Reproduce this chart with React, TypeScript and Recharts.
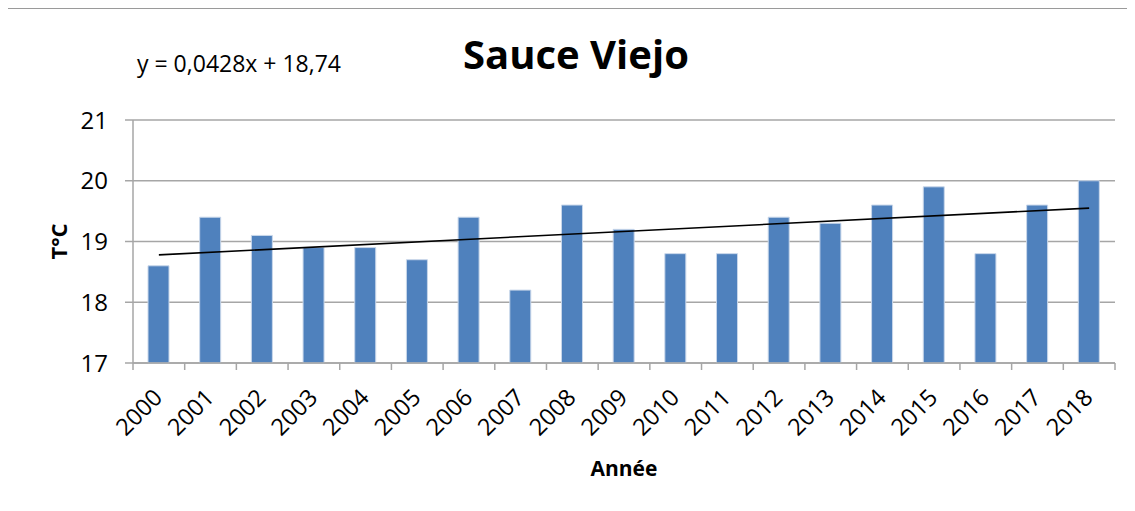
import React from "react"
import { ComposedChart, Bar, Line, XAxis, YAxis, CartesianGrid, Label } from "recharts"

const years = [
  "2000", "2001", "2002", "2003", "2004", "2005", "2006", "2007", "2008", "2009",
  "2010", "2011", "2012", "2013", "2014", "2015", "2016", "2017", "2018",
]
const temps = [
  18.6, 19.4, 19.1, 18.9, 18.9, 18.7, 19.4, 18.2, 19.6, 19.2,
  18.8, 18.8, 19.4, 19.3, 19.6, 19.9, 18.8, 19.6, 20.0,
]
const yTicks = [17, 18, 19, 20, 21]
// trend line end points (y = 0,0428x + 18,74)
const trendStart = 18.78
const trendEnd = 19.55

const title = "Sauce Viejo"
const equation = "y = 0,0428x + 18,74"
const xTitle = "Année"
const yTitle = "T°C"

const data = years.map((year, i) => ({
  year,
  temp: temps[i],
  trend: i === 0 ? trendStart : i === years.length - 1 ? trendEnd : null,
}))

const W = 1127
const H = 503
const Y_AXIS_W = 125
const MARGIN = { top: 112, right: 20, bottom: 48, left: 0 }
const PLOT_W = W - Y_AXIS_W - MARGIN.right
const BAND = PLOT_W / years.length
const GRID = "#a6a6a6"
const FONT = "'Open Sans', sans-serif"

function XTick({ x, y, payload, index }: any) {
  const half = BAND / 2
  return (
    <g>
      <line x1={x - half} x2={x - half} y1={y} y2={y + 7} stroke={GRID} strokeWidth={1.5} />
      {index === years.length - 1 && (
        <line x1={x + half} x2={x + half} y1={y} y2={y + 7} stroke={GRID} strokeWidth={1.5} />
      )}
      <text
        transform={`translate(${x + 5},${y + 36}) rotate(-45)`}
        textAnchor="end"
        fontSize={23.5}
        fill="#000"
      >
        {payload.value}
      </text>
    </g>
  )
}

export default function App() {
  return (
    <div style={{ position: "relative", width: W, height: H, fontFamily: FONT, background: "#fff" }}>
      <div
        style={{
          position: "absolute",
          left: -1,
          top: 0,
          width: W + 1,
          height: H,
          boxSizing: "border-box",
          borderTop: "1.5px solid #9a9a9a",
          borderLeft: "1.5px solid #9a9a9a",
        }}
      />
      <ComposedChart width={W} height={H} data={data} margin={MARGIN}>
        <CartesianGrid vertical={false} stroke={GRID} strokeWidth={1.5} />
        <XAxis
          dataKey="year"
          interval={0}
          tickSize={0}
          tickMargin={0}
          height={100}
          tickLine={false}
          axisLine={{ stroke: GRID, strokeWidth: 1.5 }}
          tick={<XTick />}
        >
          <Label
            content={({ viewBox }: any) => (
              <text
                x={viewBox.x + viewBox.width / 2}
                y={viewBox.y + 113}
                textAnchor="middle"
                fontSize={21}
                fontWeight="bold"
                fill="#000"
              >
                {xTitle}
              </text>
            )}
          />
        </XAxis>
        <YAxis
          width={Y_AXIS_W}
          domain={[17, 21]}
          ticks={yTicks}
          interval={0}
          tickSize={8}
          tickMargin={17}
          tickLine={{ stroke: GRID, strokeWidth: 1.5 }}
          axisLine={{ stroke: GRID, strokeWidth: 1.5 }}
          tick={{ fontSize: 24, fill: "#000" }}
        >
          <Label
            content={({ viewBox }: any) => {
              const cx = 59
              const cy = viewBox.y + viewBox.height / 2
              return (
                <text
                  x={cx}
                  y={cy}
                  transform={`rotate(-90, ${cx}, ${cy})`}
                  textAnchor="middle"
                  fontSize={22}
                  fontWeight="bold"
                  fill="#000"
                >
                  {yTitle}
                </text>
              )
            }}
          />
        </YAxis>
        <Bar dataKey="temp" fill="#4f81bd" stroke="#c9d7ea" strokeWidth={1} barSize={21} isAnimationActive={false} />
        <Line
          dataKey="trend"
          type="linear"
          stroke="#000"
          strokeWidth={1.6}
          dot={false}
          activeDot={false}
          connectNulls
          isAnimationActive={false}
        />
      </ComposedChart>
      <svg width={W} height={H} style={{ position: "absolute", left: 0, top: 0, pointerEvents: "none" }}>
        <text x={568} y={61} textAnchor="middle" fontSize={40} fontWeight="bold" fill="#000">
          {title}
        </text>
        <text x={129} y={64} fontSize={23} fill="#000">
          {equation}
        </text>
      </svg>
    </div>
  )
}
